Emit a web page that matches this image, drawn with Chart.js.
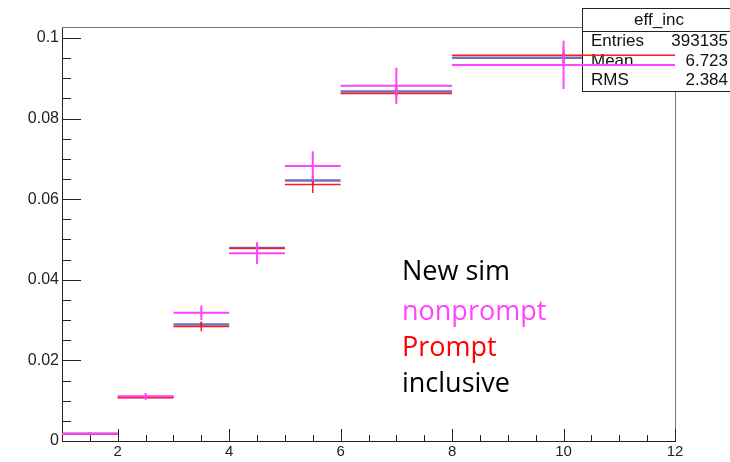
<!DOCTYPE html>
<html>
<head>
<meta charset="utf-8">
<script src="https://cdn.jsdelivr.net/npm/chart.js@4.4.1/dist/chart.umd.min.js"></script>
<style>
html,body{margin:0;padding:0;background:#fff;}
canvas{display:block;}
</style>
</head>
<body>
<canvas id="c" width="730" height="462"></canvas>
<script>
// ---- data ----
const binEdges = [1, 2, 3, 4, 5, 6, 8, 12];
const inclusive    = [0.0018, 0.0109, 0.0289, 0.0479, 0.0646, 0.0867, 0.0951];
const inclusiveErr = [0.0002, 0.0003, 0.0007, 0.0009, 0.0012, 0.0012, 0.0015];
const prompt       = [0.0017, 0.0107, 0.0284, 0.0478, 0.0636, 0.0862, 0.0957];
const promptErr    = [0.0002, 0.0004, 0.0012, 0.0013, 0.0021, 0.0016, 0.0020];
const nonprompt    = [0.0018, 0.0111, 0.0318, 0.0466, 0.0682, 0.0881, 0.0933];
const nonpromptErr = [0.0004, 0.0008, 0.0018, 0.0027, 0.0037, 0.0045, 0.0060];
const xTickValues = [2, 4, 6, 8, 10, 12];
const xTickLabels = ['2', '4', '6', '8', '10', '12'];
const yTickValues = [0, 0.02, 0.04, 0.06, 0.08, 0.1];
const yTickLabels = ['0', '0.02', '0.04', '0.06', '0.08', '0.1'];
const statsTitle = 'eff_inc';
const statsRows = [['Entries', '393135'], ['Mean', '6.723'], ['RMS', '2.384']];
const annotations = [
  ['New sim', '#000000'],
  ['nonprompt', '#ff44ff'],
  ['Prompt', '#ff0000'],
  ['inclusive', '#000000']
];

// build step segments and error bars from the arrays
function hSegments(vals) {
  const out = [];
  vals.forEach((v, i) => {
    out.push({x: binEdges[i], y: v});
    out.push({x: binEdges[i + 1], y: v});
    out.push({x: binEdges[i + 1], y: null});
  });
  return out;
}
function vErrors(vals, errs) {
  const out = [];
  vals.forEach((v, i) => {
    const xc = (binEdges[i] + binEdges[i + 1]) / 2;
    out.push({x: xc, y: v - errs[i]});
    out.push({x: xc, y: v + errs[i]});
    out.push({x: xc, y: null});
  });
  return out;
}
function ds(data, color, width) {
  return {data, borderColor: color, borderWidth: width, pointRadius: 0,
          pointHoverRadius: 0, spanGaps: false, fill: false, tension: 0};
}

const blue = 'rgba(55,55,165,0.72)';
const red = '#ff1a1a';
const mag = '#ff44ff';

const framePlugin = {
  id: 'frame',
  beforeDatasetsDraw(chart) {
    const {ctx, chartArea: a} = chart;
    ctx.save();
    ctx.strokeStyle = '#777';
    ctx.lineWidth = 1;
    ctx.beginPath();
    ctx.moveTo(a.left, a.top + 0.5); ctx.lineTo(a.right + 0.5, a.top + 0.5);
    ctx.lineTo(a.right + 0.5, a.bottom);
    ctx.stroke();
    // inside ticks
    const xs = chart.scales.x, ys = chart.scales.y;
    ctx.strokeStyle = '#222';
    ctx.beginPath();
    for (let v = 0; v <= ys.max + 1e-9; v += 0.005) {
      const p = Math.round(ys.getPixelForValue(v)) + 0.5;
      const major = Math.abs(v / 0.02 - Math.round(v / 0.02)) < 1e-6;
      ctx.moveTo(a.left, p); ctx.lineTo(a.left + (major ? 19 : 9), p);
    }
    for (let v = xs.min; v <= xs.max + 1e-9; v += 0.5) {
      const p = Math.round(xs.getPixelForValue(v)) + 0.5;
      const major = Math.abs(v / 2 - Math.round(v / 2)) < 1e-6;
      ctx.moveTo(p, a.bottom); ctx.lineTo(p, a.bottom - (major ? 12 : 6));
    }
    ctx.stroke();
    ctx.restore();
  },
  afterDatasetDraw(chart, args) {
    // stats box drawn right after the inclusive histogram (index 4 draws before 3..0)
    if (args.index !== 4) return;
    const ctx = chart.ctx;
    ctx.save();
    const L = 582.5, T = 8.5, R = 736, B = 91.5;
    ctx.fillStyle = '#fff';
    ctx.fillRect(L, T, R - L, B - T);
    ctx.strokeStyle = '#222';
    ctx.lineWidth = 1;
    ctx.strokeRect(L, T, R - L, B - T);
    ctx.beginPath(); ctx.moveTo(L, 31.5); ctx.lineTo(R, 31.5); ctx.stroke();
    ctx.fillStyle = '#111';
    ctx.font = '17px "Liberation Sans", Arial, sans-serif';
    ctx.textBaseline = 'alphabetic';
    ctx.textAlign = 'center';
    ctx.fillText(statsTitle, 659, 25);
    const baselines = [46, 65.5, 85];
    statsRows.forEach((r, i) => {
      ctx.textAlign = 'left';
      ctx.fillText(r[0], 591, baselines[i]);
      ctx.textAlign = 'right';
      ctx.fillText(r[1], 728, baselines[i]);
    });
    ctx.restore();
  },
  afterDraw(chart) {
    const ctx = chart.ctx;
    ctx.save();
    ctx.font = '27px "Open Sans", sans-serif';
    ctx.textAlign = 'left';
    ctx.textBaseline = 'alphabetic';
    const base = [280, 320, 356, 392];
    annotations.forEach((t, i) => {
      ctx.fillStyle = t[1];
      ctx.fillText(t[0], 402, base[i]);
    });
    ctx.restore();
  }
};

// Chart.js draws the highest dataset index first, so list top-most first
new Chart(document.getElementById('c'), {
  type: 'line',
  data: {
    datasets: [
      ds(vErrors(nonprompt, nonpromptErr), mag, 2),
      ds(hSegments(nonprompt), mag, 2),
      ds(vErrors(prompt, promptErr), red, 1.5),
      ds(hSegments(prompt), red, 1.5),
      ds(vErrors(inclusive, inclusiveErr), blue, 2),
      ds(hSegments(inclusive), blue, 2.5)
    ]
  },
  options: {
    responsive: false,
    animation: false,
    devicePixelRatio: 1,
    layout: {padding: {left: 0, top: 27, right: 55, bottom: 0}},
    plugins: {legend: {display: false}, tooltip: {enabled: false}},
    events: [],
    scales: {
      x: {
        type: 'linear', min: 1, max: 12,
        afterBuildTicks: (s) => { s.ticks = xTickValues.map(v => ({value: v})); },
        afterFit: (s) => { s.height = 21; },
        grid: {display: false, drawTicks: false},
        border: {display: true, color: '#222', width: 1},
        ticks: {
          font: {family: '"Liberation Sans", Arial, sans-serif', size: 15},
          color: '#222', padding: 2, maxRotation: 0, autoSkip: false,
          callback: (v) => xTickLabels[xTickValues.indexOf(v)]
        }
      },
      y: {
        type: 'linear', min: 0, max: 0.1027,
        afterBuildTicks: (s) => { s.ticks = yTickValues.map(v => ({value: v})); },
        afterFit: (s) => { s.width = 62; },
        grid: {display: false, drawTicks: false},
        border: {display: true, color: '#222', width: 1},
        ticks: {
          font: {family: '"Liberation Sans", Arial, sans-serif', size: 16},
          color: '#222', padding: 3, autoSkip: false,
          callback: (v) => yTickLabels[yTickValues.indexOf(v)]
        }
      }
    }
  },
  plugins: [framePlugin]
});
</script>
</body>
</html>
